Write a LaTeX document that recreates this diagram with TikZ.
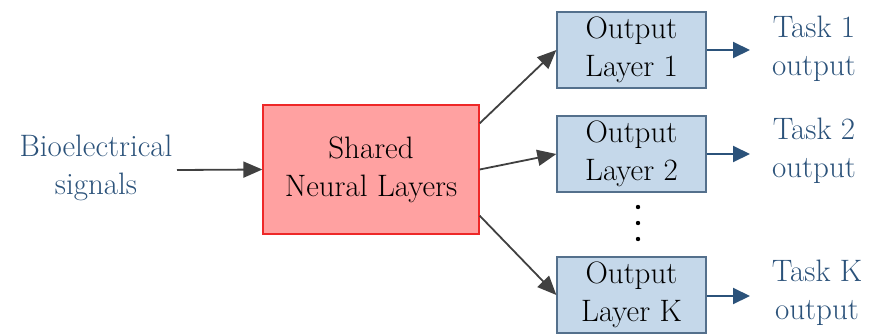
\documentclass[tikz,border=0pt]{standalone}
\usetikzlibrary{arrows.meta}

\definecolor{labelblue}{RGB}{43,82,122}
\definecolor{arrowgray}{RGB}{64,64,64}
\definecolor{sharedfill}{RGB}{255,161,161}
\definecolor{sharededge}{RGB}{238,40,40}
\definecolor{outfill}{RGB}{197,216,234}
\definecolor{outedge}{RGB}{84,112,140}

\tikzset{
  txt/.style={font=\rmfamily\fontsize{31}{38}\selectfont, align=center, inner sep=0pt},
  sharedbox/.style={txt, draw=sharededge, fill=sharedfill, line width=1.3pt,
    minimum width=216pt, minimum height=129pt},
  outbox/.style={txt, draw=outedge, fill=outfill, line width=1.3pt,
    minimum width=149pt, minimum height=76pt},
  label/.style={txt, text=labelblue},
  grayarrow/.style={draw=arrowgray, line width=1.8pt,
    -{Triangle[length=19pt, width=16pt]}},
  bluearrow/.style={draw=labelblue, line width=2pt,
    -{Triangle[length=17pt, width=16pt]}},
}

\begin{document}
\begin{tikzpicture}[x=1pt, y=-1pt]
  \useasboundingbox (0,0) rectangle (870,335);

  % input label and shared trunk
  \node[label] (input) at (96,168) {Bioelectrical\\signals};
  \coordinate (inend) at (177,170);
  \node[sharedbox] (shared) at (371,169.5) {Shared\\Neural Layers};

  % task-specific heads
  \node[outbox] (out1) at (631.5,50)  {Output\\Layer 1};
  \node[outbox] (out2) at (631.5,154) {Output\\Layer 2};
  \node[outbox] (outK) at (631.5,295) {Output\\Layer K};

  % vertical ellipsis between heads
  \foreach \yy/\nm in {207/d1, 223/d2, 239/d3}
    \fill[black] (638,\yy) circle (2.2pt) coordinate (\nm);

  % output labels
  \node[label] (task1) at (814,49)  {Task 1\\output};
  \node[label] (task2) at (814,151) {Task 2\\output};
  \node[label] (taskK) at (817,293) {Task K\\output};
  \coordinate (e1) at (750,50);
  \coordinate (e2) at (750,154);
  \coordinate (eK) at (750,296);

  % connectors
  \draw[grayarrow] (inend) -- (shared.west);
  \draw[grayarrow] ([yshift=-19pt]shared.north east) -- (out1.west);
  \draw[grayarrow] (shared.east) -- (out2.west);
  \draw[grayarrow] ([yshift=19pt]shared.south east) -- (outK.west);

  \draw[bluearrow] (out1.east) -- (e1);
  \draw[bluearrow] (out2.east) -- (e2);
  \draw[bluearrow] (outK.east |- eK) -- (eK);
\end{tikzpicture}
\end{document}
